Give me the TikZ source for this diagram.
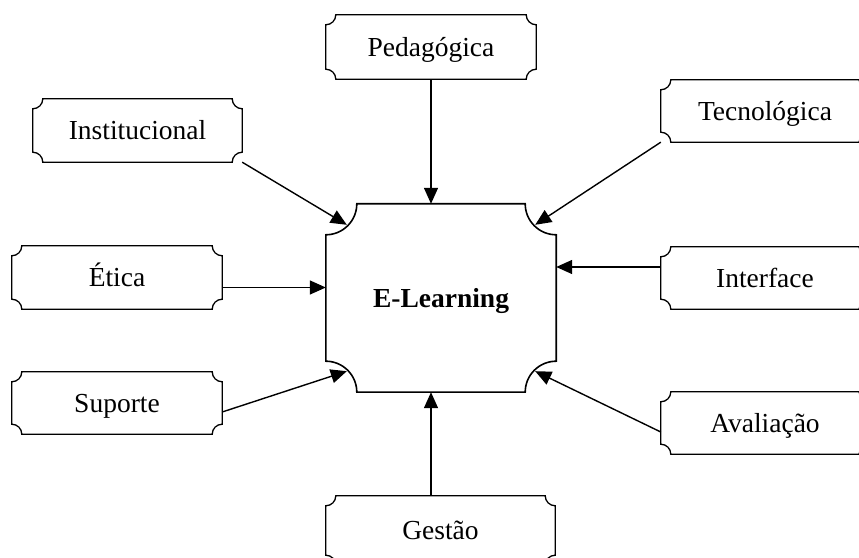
\documentclass[tikz,border=0pt]{standalone}
\usepackage{fontspec}
\setmainfont{Liberation Serif}
\usetikzlibrary{calc,arrows.meta}
\newcommand\plaqueoutline[3]{%
 \draw[line width=#3] let \p1=(#1.south west), \p2=(#1.north east) in
 (\x1,\y1+#2) -- (\x1,\y2-#2) arc[start angle=270,end angle=360,radius=#2]
 -- (\x2-#2,\y2) arc[start angle=180,end angle=270,radius=#2]
 -- (\x2,\y1+#2) arc[start angle=90,end angle=180,radius=#2]
 -- (\x1+#2,\y1) arc[start angle=0,end angle=90,radius=#2] -- cycle;}
\begin{document}
\begin{tikzpicture}[x=1pt,y=1pt,
  lbl/.style={rectangle,inner sep=0pt,font=\fontsize{27.5}{33}\selectfont,
    text height=18.2pt,text depth=0pt,minimum height=62pt,minimum width=210pt},
  arr/.style={line width=1.4pt,-{Triangle[length=16pt,width=14pt]}}]
\useasboundingbox (0,0) rectangle (859,557);
\node[lbl,minimum width=230pt,minimum height=188pt,font=\bfseries\fontsize{27.5}{33}\selectfont] (E) at (441,259) {E-Learning};
\node[lbl,minimum height=64pt] (ped) at (431,510) {Pedagógica};
\node[lbl,minimum width=209pt,minimum height=63pt] (inst) at (137.5,426.5) {Institucional};
\node[lbl,minimum width=208pt] (tec) at (765,446) {Tecnológica};
\node[lbl,minimum height=63pt] (etica) at (117,279.5) {Ética};
\node[lbl,minimum width=208pt] (interface) at (765,279) {Interface};
\node[lbl] (suporte) at (117,154) {Suporte};
\node[lbl,minimum width=208pt] (aval) at (765,134) {Avaliação};
\node[lbl,minimum width=229pt,minimum height=69pt] (gestao) at (440.5,26.5) {Gestão};
\plaqueoutline{E}{31pt}{1.6pt}
\foreach \bx in {ped,inst,tec,etica,interface,suporte,aval,gestao}{\plaqueoutline{\bx}{10pt}{1.3pt}}
\coordinate (eNW) at ([shift={(21pt,-21pt)}]E.north west);
\coordinate (eNE) at ([shift={(-21pt,-21pt)}]E.north east);
\coordinate (eSW) at ([shift={(21pt,21pt)}]E.south west);
\coordinate (eSE) at ([shift={(-21pt,21pt)}]E.south east);
\coordinate (eA) at ([yshift=-10pt]etica.east);
\coordinate (iA) at ([yshift=11pt]interface.west);
\coordinate (sA) at ([yshift=-9pt]suporte.east);
\coordinate (aA) at ([yshift=-9pt]aval.west);
\draw[arr] (ped.south) -- (ped.south |- E.north);
\draw[arr] (ped.south |- gestao.north) -- (ped.south |- E.south);
\draw[arr] (inst.south east) -- (eNW);
\draw[arr] (tec.south west) -- (eNE);
\draw[arr] (eA) -- (eA -| E.west);
\draw[arr] (iA) -- (iA -| E.east);
\draw[arr] (sA) -- (eSW);
\draw[arr] (aA) -- (eSE);
\end{tikzpicture}
\end{document}
